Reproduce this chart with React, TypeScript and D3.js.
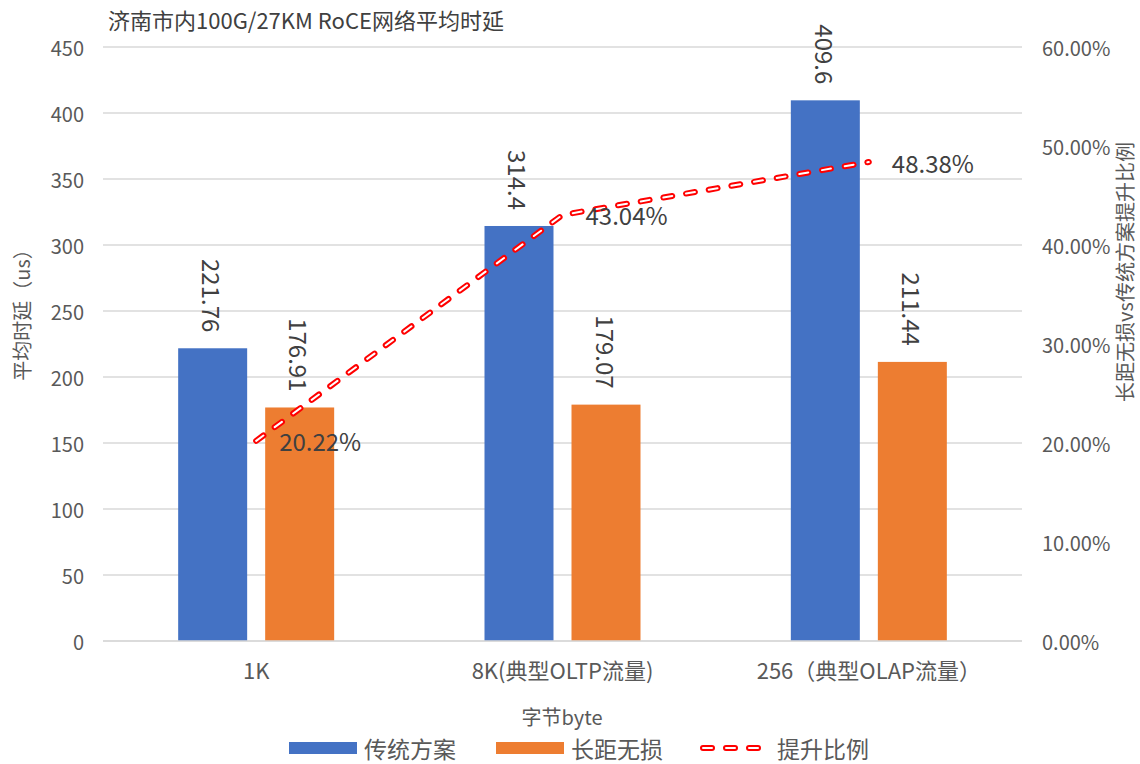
import React from "react";
import * as d3 from "d3";

const categories = ["1K", "8K(典型OLTP流量)", "256（典型OLAP流量）"];
const seriesNames = ["传统方案", "长距无损"];
const traditional = [221.76, 314.4, 409.6];
const lossless = [176.91, 179.07, 211.44];
const improvement = [20.22, 43.04, 48.38];
const leftTicks = [0, 50, 100, 150, 200, 250, 300, 350, 400, 450];
const rightTicks = [0, 10, 20, 30, 40, 50, 60];

const W = 1140;
const H = 764;
const L = 103;
const R = 1022;
const T = 47;
const B = 641;
const FONT = "'Noto Sans CJK SC', 'Noto Sans', sans-serif";
const colors = ["#4472C4", "#ED7D31"];
const DASH = "9 14";

export default function App() {
  const x0 = d3.scaleBand<string>().domain(categories).range([L, R]).padding(0);
  const bw = x0.bandwidth();
  const x1 = d3
    .scaleBand<string>()
    .domain(seriesNames)
    .range([bw / 2 - 78, bw / 2 + 78])
    .paddingInner(0.207)
    .paddingOuter(0);
  const y = d3.scaleLinear().domain([0, 450]).range([B, T]);
  const y2 = d3.scaleLinear().domain([0, 60]).range([B, T]);
  const values = [traditional, lossless];
  const cx = (c: string) => (x0(c) as number) + bw / 2;

  const linePts: [number, number][] = categories.map((c, i) => [cx(c), y2(improvement[i])]);
  const lineGen = d3.line();
  const pathD = lineGen(linePts) as string;

  const legendY = 748;

  return (
    <svg
      width={W}
      height={H}
      style={{ position: "absolute", left: 0, top: 0, background: "#fff" }}
      fontFamily={FONT}
    >
      <rect width={W} height={H} fill="#fff" />
      <text x={108} y={29} fontSize={22} fill="#404040">
        济南市内100G/27KM RoCE网络平均时延
      </text>
      {leftTicks.map((t) => (
        <g key={"g" + t}>
          <line x1={L} x2={R} y1={y(t)} y2={y(t)} stroke="#D9D9D9" strokeWidth={1.3} />
          <text x={84} y={y(t)} fontSize={20} fill="#595959" textAnchor="end" dominantBaseline="central">
            {t}
          </text>
        </g>
      ))}
      {rightTicks.map((t) => (
        <text key={"r" + t} x={1042} y={y2(t)} fontSize={20} fill="#595959" dominantBaseline="central">
          {t.toFixed(2) + "%"}
        </text>
      ))}
      <text
        transform={`translate(21,310) rotate(-90)`}
        fontSize={20}
        fill="#595959"
        textAnchor="middle"
        dominantBaseline="central"
      >
        平均时延（us）
      </text>
      <text
        transform={`translate(1124,272) rotate(-90)`}
        fontSize={20}
        fill="#595959"
        textAnchor="middle"
        dominantBaseline="central"
      >
        长距无损vs传统方案提升比例
      </text>
      {categories.map((c, ci) =>
        seriesNames.map((s, si) => {
          const v = values[si][ci];
          const bx = (x0(c) as number) + (x1(s) as number);
          const w = x1.bandwidth();
          return (
            <g key={c + s}>
              <rect x={bx} y={y(v)} width={w} height={B - y(v)} fill={colors[si]} />
              <text
                transform={`translate(${bx + w / 2},${y(v) - 16}) rotate(90)`}
                fontSize={24}
                fill="#404040"
                textAnchor="end"
                dominantBaseline="central"
              >
                {String(v)}
              </text>
            </g>
          );
        })
      )}
      <line x1={L} x2={R} y1={B} y2={B} stroke="#D9D9D9" strokeWidth={1.3} />
      <path d={pathD} fill="none" stroke="#FF0000" strokeWidth={6} strokeDasharray={DASH} strokeLinecap="round" />
      <path d={pathD} fill="none" stroke="#FFFFFF" strokeWidth={2} strokeDasharray={DASH} strokeLinecap="round" />
      {linePts.map((p, i) => (
        <text key={"l" + i} x={p[0] + 23} y={p[1]} fontSize={24} fill="#404040" dominantBaseline="central">
          {improvement[i].toFixed(2) + "%"}
        </text>
      ))}
      {categories.map((c) => (
        <text key={"c" + c} x={cx(c)} y={669} fontSize={22} fill="#595959" textAnchor="middle" dominantBaseline="central">
          {c}
        </text>
      ))}
      <text x={562} y={716} fontSize={20} fill="#595959" textAnchor="middle" dominantBaseline="central">
        字节byte
      </text>
      <rect x={289} y={legendY - 6} width={68} height={12} fill={colors[0]} />
      <text x={364} y={legendY} fontSize={23} fill="#595959" dominantBaseline="central">
        {seriesNames[0]}
      </text>
      <rect x={496} y={legendY - 6} width={68} height={12} fill={colors[1]} />
      <text x={571} y={legendY} fontSize={23} fill="#595959" dominantBaseline="central">
        {seriesNames[1]}
      </text>
      <line x1={703} x2={763} y1={legendY} y2={legendY} stroke="#FF0000" strokeWidth={6} strokeDasharray={DASH} strokeLinecap="round" />
      <line x1={703} x2={763} y1={legendY} y2={legendY} stroke="#FFFFFF" strokeWidth={2} strokeDasharray={DASH} strokeLinecap="round" />
      <text x={777} y={legendY} fontSize={23} fill="#595959" dominantBaseline="central">
        提升比例
      </text>
    </svg>
  );
}
